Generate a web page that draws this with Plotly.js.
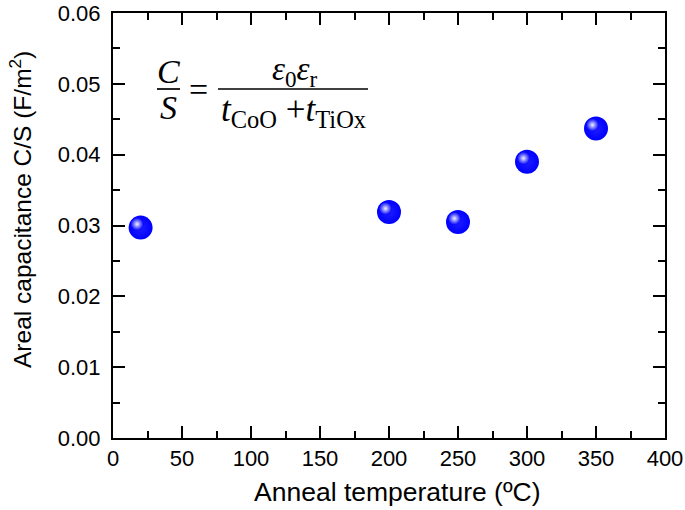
<!DOCTYPE html>
<html>
<head>
<meta charset="utf-8">
<script src="https://cdn.plot.ly/plotly-3.0.1.min.js"></script>
<style>html,body{margin:0;padding:0;background:#fff;}#chart{width:685px;height:510px;}</style>
</head>
<body>
<div id="chart"></div>
<script>
const annealTemp = [20, 200, 250, 300, 350];
const arealCap = [0.0297, 0.0319, 0.0305, 0.0390, 0.0437];
const xTickVals = [0, 50, 100, 150, 200, 250, 300, 350, 400];
const yTickVals = [0.00, 0.01, 0.02, 0.03, 0.04, 0.05, 0.06];
const yTickText = ['0.00', '0.01', '0.02', '0.03', '0.04', '0.05', '0.06'];
const xTitle = 'Anneal temperature (ºC)';
const yTitle = 'Areal capacitance C/S (F/m<sup>2</sup>)';

const L = 113, R = 665, T = 13, B = 438;
const W = R - L, H = B - T;
const px = v => (v - L) / W;
const py = v => (B - v) / H;
const serif = 'Liberation Serif, Times New Roman, serif';
const eqFont = s => ({family: serif, size: s, color: '#000'});
const sansFont = 'Liberation Sans, Arial, sans-serif';

// ball body
const ball = {
  x: annealTemp, y: arealCap, type: 'scatter', mode: 'markers',
  marker: {size: 24, color: 'rgb(0,0,255)', line: {width: 0},
           gradient: {type: 'radial', color: 'rgb(30,30,255)'}},
  showlegend: false, hoverinfo: 'none'
};
// specular highlight: same data drawn on slightly shifted overlay axes
const shineDx = 3.5, shineDy = 3.5; // px offset up-left
const shine = {
  x: annealTemp, y: arealCap, type: 'scatter', mode: 'markers', xaxis: 'x2', yaxis: 'y2',
  marker: {size: 13, color: 'rgb(0,0,255)', line: {width: 0},
           gradient: {type: 'radial', color: 'rgb(240,240,255)'}},
  showlegend: false, hoverinfo: 'none'
};

const axisCommon = {
  showline: true, linewidth: 2, linecolor: '#000', mirror: 'allticks',
  ticks: 'inside', ticklen: 12, tickwidth: 2, tickcolor: '#000',
  showgrid: false, zeroline: false, ticklabeloverflow: 'allow',
  tickfont: {family: sansFont, size: 22, color: '#000'},
};

const layout = {
  width: 685, height: 510,
  margin: {l: L, r: 685 - R, t: T, b: 510 - B},
  paper_bgcolor: '#fff', plot_bgcolor: '#fff',
  xaxis: Object.assign({}, axisCommon, {
    range: [0, 400], tickvals: xTickVals,
    minor: {dtick: 25, ticks: 'inside', ticklen: 7, tickwidth: 2, tickcolor: '#000', showgrid: false}
  }),
  yaxis: Object.assign({}, axisCommon, {
    range: [0, 0.06], tickvals: yTickVals, ticktext: yTickText, ticklabelstandoff: 6,
    minor: {dtick: 0.005, ticks: 'inside', ticklen: 7, tickwidth: 2, tickcolor: '#000', showgrid: false}
  }),
  xaxis2: {overlaying: 'x', range: [shineDx / W * 400, 400 + shineDx / W * 400], visible: false, showgrid: false, zeroline: false},
  yaxis2: {overlaying: 'y', range: [-shineDy / H * 0.06, 0.06 - shineDy / H * 0.06], visible: false, showgrid: false, zeroline: false},
  shapes: [
    {type: 'line', xref: 'paper', yref: 'paper', x0: px(157), x1: px(180), y0: py(89), y1: py(89), line: {color: '#000', width: 1.7}},
    {type: 'line', xref: 'paper', yref: 'paper', x0: px(218), x1: px(368), y0: py(89), y1: py(89), line: {color: '#000', width: 1.7}}
  ],
  annotations: [
    {text: xTitle, xref: 'paper', yref: 'paper', x: px(397), y: py(492), xanchor: 'center', yanchor: 'middle', showarrow: false,
     font: {family: sansFont, size: 26.5, color: '#000'}},
    {text: yTitle, xref: 'paper', yref: 'paper', x: px(20), y: py(210), xanchor: 'center', yanchor: 'middle', textangle: -90, showarrow: false,
     font: {family: sansFont, size: 24.5, color: '#000'}},
    {text: '<i>C</i>', xref: 'paper', yref: 'paper', x: px(168), y: py(71), xanchor: 'center', yanchor: 'middle', showarrow: false, font: eqFont(34)},
    {text: '<i>S</i>', xref: 'paper', yref: 'paper', x: px(168), y: py(108), xanchor: 'center', yanchor: 'middle', showarrow: false, font: eqFont(34)},
    {text: '=', xref: 'paper', yref: 'paper', x: px(198), y: py(90), xanchor: 'center', yanchor: 'middle', showarrow: false, font: eqFont(34)},
    {text: '<i>ε</i><sub>0</sub><i>ε</i><sub>r</sub>', xref: 'paper', yref: 'paper', x: px(295), y: py(72), xanchor: 'center', yanchor: 'middle', showarrow: false, font: eqFont(33)},
    {text: '<i>t</i><sub>CoO</sub> +<i>t</i><sub>TiOx</sub>', xref: 'paper', yref: 'paper', x: px(293), y: py(112), xanchor: 'center', yanchor: 'middle', showarrow: false, font: eqFont(35)}
  ]
};

Plotly.newPlot('chart', [ball, shine], layout, {displayModeBar: false, staticPlot: true});
</script>
</body>
</html>
